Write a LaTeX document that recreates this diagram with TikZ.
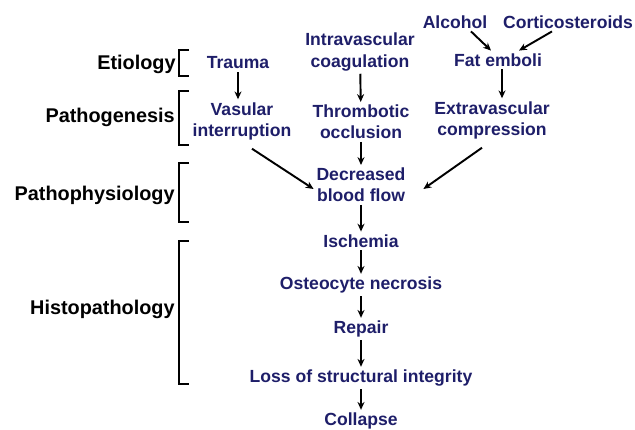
\documentclass[tikz,border=0pt]{standalone}
\usepackage{fontspec}
\setmainfont{Liberation Sans}
\usetikzlibrary{arrows.meta}
\definecolor{stagenavy}{RGB}{30,30,105}

\tikzset{
	stage/.style={text=stagenavy, font=\bfseries\fontsize{10}{12}\selectfont, align=center, inner sep=1.5pt},
	level/.style={font=\bfseries\fontsize{11.3}{13}\selectfont, anchor=east, inner sep=0pt},
	flow/.style={line width=1.1pt, -{Stealth[length=4.5pt,width=4pt]}},
	brace/.style={line width=1.1pt}
}

\begin{document}
\begin{tikzpicture}[x=0.02cm, y=-0.02cm]
	\useasboundingbox (0,0) rectangle (635,429);
	
	% levels on the left
	\node[level] (etio) at (176,64) {Etiology};
	\node[level] (patho) at (175,117) {Pathogenesis};
	\node[level] (physio) at (175,195) {Pathophysiology};
	\node[level] (histo) at (175,309) {Histopathology};
	
	\draw[brace] (189,50) -- (179,50) -- (179,76) -- (189,76);
	\draw[brace] (189,91) -- (179,91) -- (179,145) -- (189,145);
	\draw[brace] (189,163) -- (179,163) -- (179,222) -- (189,222);
	\draw[brace] (189,241) -- (179,241) -- (179,384) -- (189,384);
	
	% causes
	\node[stage] (trauma) at (238,63) {Trauma};
	\node[stage] (coag) at (360,52) {Intravascular\\coagulation};
	\node[stage] (alcohol) at (455,22) {Alcohol};
	\node[stage] (steroid) at (568,22) {Corticosteroids};
	\node[stage] (fat) at (498,60) {Fat emboli};
	
	% mechanisms
	\node[stage] (vasular) at (242,121) {Vasular\\interruption};
	\node[stage] (occlusion) at (361,122) {Thrombotic\\occlusion};
	\node[stage] (compress) at (492,120) {Extravascular\\compression};
	
	% main column
	\node[stage] (flow) at (361,185) {Decreased\\blood flow};
	\node[stage] (ischemia) at (361,241) {Ischemia};
	\node[stage] (necrosis) at (361,285) {Osteocyte necrosis};
	\node[stage] (repair) at (361,329) {Repair};
	\node[stage] (loss) at (361,378) {Loss of structural integrity};
	\node[stage] (collapse) at (361,421) {Collapse};
	
	\draw[flow] (trauma) -- (trauma |- vasular.north);
	\draw[flow] (coag) -- (occlusion);
	\draw[flow] ([xshift=0.08cm]fat.south) -- ([xshift=0.08cm]fat.south |- compress.north);
	\draw[flow] ([xshift=0.32cm]alcohol.south) -- ([xshift=-0.14cm]fat.north);
	\draw[flow] ([xshift=-0.32cm]steroid.south) -- ([xshift=0.42cm]fat.north);
	
	\draw[flow] ([xshift=0.2cm, yshift=-0.12cm]vasular.south) -- ([yshift=-0.08cm]flow.west);
	\draw[flow] (occlusion) -- (flow);
	\draw[flow] ([xshift=-0.2cm, yshift=-0.12cm]compress.south) -- ([xshift=0.3cm, yshift=-0.08cm]flow.east);
	
	\draw[flow] (flow) -- (ischemia);
	\draw[flow] (ischemia) -- (necrosis);
	\draw[flow] (necrosis) -- (repair);
	\draw[flow] (repair) -- (loss);
	\draw[flow] (loss) -- (collapse);
\end{tikzpicture}
\end{document}
